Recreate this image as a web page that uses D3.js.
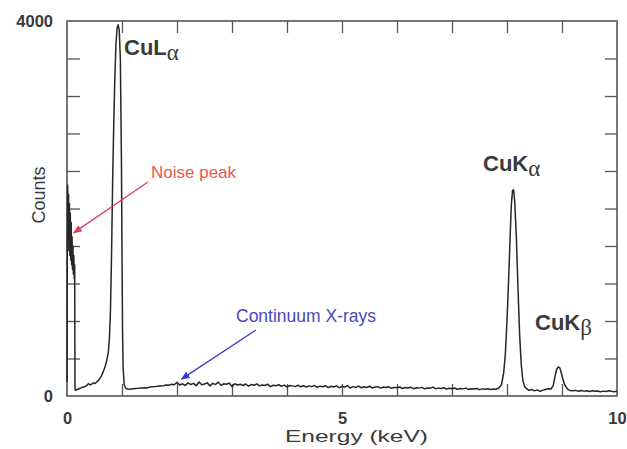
<!DOCTYPE html>
<html>
<head>
<meta charset="utf-8">
<script src="https://cdn.jsdelivr.net/npm/d3@7"></script>
<style>
  body { margin: 0; background: #fff; }
  svg { display: block; }
</style>
</head>
<body>
<svg id="chart" width="627" height="449"></svg>
<script>
// EDS spectrum of copper: [energy keV, counts]
const noisePeak = [
  [0.000, 150], [0.006, 1600], [0.012, 2250], [0.020, 1700], [0.028, 2150],
  [0.036, 1550], [0.044, 2050], [0.052, 1500], [0.060, 1950], [0.068, 1450],
  [0.076, 1850], [0.084, 1400], [0.092, 1700], [0.100, 1350], [0.108, 1600],
  [0.116, 1300], [0.124, 1500], [0.132, 1250], [0.140, 1400], [0.145, 90]
];
const lowContinuum = [
  [0.15, 62], [0.18, 66], [0.21, 75], [0.24, 82], [0.27, 90], [0.30, 96],
  [0.33, 102], [0.36, 112], [0.39, 132], [0.42, 118], [0.45, 126], [0.48, 140],
  [0.51, 134], [0.54, 150], [0.57, 165], [0.60, 190], [0.63, 220], [0.66, 260],
  [0.69, 310], [0.72, 370], [0.75, 460]
];
const cuLAlphaPeak = [
  [0.77, 600], [0.79, 900], [0.81, 1500], [0.83, 2300], [0.85, 2900],
  [0.87, 3400], [0.89, 3750], [0.91, 3920], [0.93, 3960], [0.95, 3900],
  [0.97, 3600], [0.99, 2500], [1.00, 1500], [1.01, 700], [1.02, 300],
  [1.04, 120], [1.07, 80]
];
const midContinuum = [
  [1.10, 75], [1.15, 72], [1.20, 78], [1.25, 80], [1.30, 82], [1.35, 85],
  [1.40, 88], [1.45, 86], [1.50, 95], [1.55, 98], [1.60, 100], [1.65, 105],
  [1.70, 110], [1.75, 108], [1.80, 118], [1.85, 115], [1.90, 125], [1.95, 120],
  [2.00, 145], [2.05, 118], [2.10, 130], [2.15, 112], [2.20, 140], [2.25, 122],
  [2.30, 135], [2.35, 110], [2.40, 150], [2.45, 120], [2.50, 128], [2.55, 140],
  [2.60, 108], [2.65, 135], [2.70, 122], [2.75, 148], [2.80, 115], [2.85, 130],
  [2.90, 125], [2.95, 138], [3.00, 100], [3.05, 130], [3.10, 118], [3.15, 125],
  [3.20, 112], [3.25, 128], [3.30, 105], [3.35, 122], [3.40, 115], [3.45, 130],
  [3.50, 108], [3.55, 118], [3.60, 112], [3.65, 125], [3.70, 100], [3.75, 115],
  [3.80, 110], [3.85, 120], [3.90, 104], [3.95, 116], [4.00, 95], [4.05, 112],
  [4.10, 108], [4.15, 100], [4.20, 115], [4.25, 98], [4.30, 110], [4.35, 94],
  [4.40, 108], [4.45, 100], [4.50, 112], [4.55, 92], [4.60, 105], [4.65, 98],
  [4.70, 110], [4.75, 90], [4.80, 104], [4.85, 96], [4.90, 108], [4.95, 88],
  [5.00, 102], [5.05, 95], [5.10, 112], [5.15, 85], [5.20, 100], [5.25, 92],
  [5.30, 106], [5.35, 88], [5.40, 98], [5.45, 90], [5.50, 104], [5.55, 86],
  [5.60, 96], [5.65, 100], [5.70, 84], [5.75, 95], [5.80, 90], [5.85, 98],
  [5.90, 82], [5.95, 92], [6.00, 88], [6.05, 96], [6.10, 80], [6.15, 90],
  [6.20, 86], [6.25, 94], [6.30, 78], [6.35, 88], [6.40, 84], [6.45, 92],
  [6.50, 76], [6.55, 86], [6.60, 82], [6.65, 95], [6.70, 78], [6.75, 84],
  [6.80, 80], [6.85, 88], [6.90, 74], [6.95, 82], [7.00, 78], [7.05, 85],
  [7.10, 72], [7.15, 80], [7.20, 76], [7.25, 84], [7.30, 70], [7.35, 78],
  [7.40, 74], [7.45, 80], [7.50, 68], [7.55, 76], [7.60, 72], [7.65, 78],
  [7.70, 70], [7.75, 74], [7.80, 72], [7.85, 85]
];
const cuKAlphaPeak = [
  [7.90, 120], [7.94, 250], [7.97, 450], [8.00, 800], [8.03, 1250],
  [8.06, 1750], [8.08, 2050], [8.10, 2190], [8.12, 2200], [8.14, 2080],
  [8.17, 1700], [8.20, 1150], [8.23, 650], [8.26, 330], [8.29, 160],
  [8.32, 100], [8.36, 75]
];
const gapContinuum = [
  [8.40, 60], [8.45, 70], [8.50, 55], [8.55, 65], [8.60, 50], [8.65, 60],
  [8.70, 70], [8.75, 78]
];
const cuKBetaPeak = [
  [8.80, 75], [8.84, 110], [8.87, 200], [8.90, 280], [8.93, 310], [8.96, 300],
  [8.99, 240], [9.02, 170], [9.05, 120], [9.08, 90], [9.12, 65]
];
const highContinuum = [
  [9.15, 58], [9.20, 55], [9.25, 60], [9.30, 50], [9.35, 58], [9.40, 52],
  [9.45, 56], [9.50, 48], [9.55, 55], [9.60, 50], [9.65, 54], [9.70, 46],
  [9.75, 52], [9.80, 48], [9.85, 55], [9.90, 50], [9.95, 46], [10.00, 50]
];

const spectrum = [].concat(noisePeak, lowContinuum, cuLAlphaPeak, midContinuum,
  cuKAlphaPeak, gapContinuum, cuKBetaPeak, highContinuum);

const xLabelTicks = [0, 5, 10];
const xMinorTicks = [1, 2, 3, 4, 5, 6, 7, 8, 9];
const yLabelTicks = [0, 4000];
const yMinorTicks = [400, 800, 1200, 1600, 2000, 2400, 2800, 3200, 3600];

const svg = d3.select("#chart");
const plotLeft = 67, plotRight = 617, plotTop = 21, plotBottom = 396;

const x = d3.scaleLinear().domain([0, 10]).range([plotLeft, plotRight]);
const y = d3.scaleLinear().domain([0, 4000]).range([plotBottom, plotTop]);

const frameColor = "#555";
const textColor = "#3a3a3a";

// inward ticks on all four sides
function styleTicks(g) {
  g.select(".domain").remove();
  g.selectAll("line").attr("stroke", frameColor).attr("stroke-width", 1.3);
}
svg.append("g").attr("transform", `translate(0,${plotBottom})`)
  .call(d3.axisBottom(x).tickValues(xMinorTicks).tickSize(-12).tickFormat(""))
  .call(styleTicks);
svg.append("g").attr("transform", `translate(0,${plotTop})`)
  .call(d3.axisTop(x).tickValues(xMinorTicks).tickSize(-12).tickFormat(""))
  .call(styleTicks);
svg.append("g").attr("transform", `translate(${plotLeft},0)`)
  .call(d3.axisLeft(y).tickValues(yMinorTicks).tickSize(-13).tickFormat(""))
  .call(styleTicks);
svg.append("g").attr("transform", `translate(${plotRight},0)`)
  .call(d3.axisRight(y).tickValues(yMinorTicks).tickSize(-12).tickFormat(""))
  .call(styleTicks);

// tick labels
function styleLabels(g) {
  g.select(".domain").remove();
  g.selectAll("line").remove();
  g.selectAll("text")
    .attr("font-family", "'Liberation Sans', Arial, sans-serif")
    .attr("font-size", 16.5).attr("font-weight", "bold").attr("fill", textColor);
}
svg.append("g").attr("transform", `translate(0,${plotBottom})`)
  .call(d3.axisBottom(x).tickValues(xLabelTicks).tickSize(0).tickPadding(16).tickFormat(d3.format("d")))
  .call(styleLabels);
svg.append("g").attr("transform", `translate(${plotLeft},0)`)
  .call(d3.axisLeft(y).tickValues(yLabelTicks).tickSize(0).tickPadding(14).tickFormat(d3.format("d")))
  .call(styleLabels);

// frame
svg.append("rect")
  .attr("x", plotLeft).attr("y", plotTop)
  .attr("width", plotRight - plotLeft).attr("height", plotBottom - plotTop)
  .attr("fill", "none").attr("stroke", frameColor).attr("stroke-width", 1.6);

// spectrum trace
const line = d3.line().x(d => x(d[0])).y(d => y(d[1]));
svg.append("path")
  .datum(spectrum)
  .attr("d", line)
  .attr("fill", "none")
  .attr("stroke", "#262626")
  .attr("stroke-width", 1.5)
  .attr("stroke-linejoin", "round");

// axis titles
svg.append("text")
  .attr("x", 285).attr("y", 442)
  .attr("textLength", 143).attr("lengthAdjust", "spacingAndGlyphs")
  .attr("font-family", "'Liberation Sans', Arial, sans-serif")
  .attr("font-size", 17).attr("fill", textColor)
  .text("Energy (keV)");
svg.append("text")
  .attr("transform", "translate(45,195) rotate(-90)")
  .attr("text-anchor", "middle")
  .attr("font-family", "'Liberation Sans', Arial, sans-serif")
  .attr("font-size", 18).attr("fill", textColor)
  .text("Counts");

// peak labels with Greek subscripts
function peakLabel(px, py, main, greek) {
  const t = svg.append("text")
    .attr("x", px).attr("y", py)
    .attr("font-family", "'Liberation Sans', Arial, sans-serif")
    .attr("font-size", 22).attr("font-weight", "bold").attr("fill", textColor);
  t.append("tspan").text(main);
  t.append("tspan")
    .attr("dy", 5)
    .attr("font-family", "'Liberation Serif', 'Times New Roman', serif")
    .attr("font-weight", "normal").attr("font-size", 23)
    .text(greek);
}
peakLabel(124, 55, "CuL", "α");
peakLabel(483, 171, "CuK", "α");
peakLabel(535, 330, "CuK", "β");

// annotations
const defs = svg.append("defs");
function arrowMarker(id, color) {
  defs.append("marker")
    .attr("id", id).attr("viewBox", "0 0 10 10")
    .attr("refX", 9).attr("refY", 5)
    .attr("markerWidth", 7).attr("markerHeight", 7)
    .attr("orient", "auto")
    .append("path").attr("d", "M0,1 L10,5 L0,9 z").attr("fill", color);
}
arrowMarker("arrowRed", "#d8405a");
arrowMarker("arrowBlue", "#3a3ad0");

svg.append("line")
  .attr("x1", 148).attr("y1", 182).attr("x2", x(0.12)).attr("y2", y(1740))
  .attr("stroke", "#d8405a").attr("stroke-width", 1.3)
  .attr("marker-end", "url(#arrowRed)");
svg.append("text")
  .attr("x", 151).attr("y", 178)
  .attr("font-family", "'Liberation Sans', Arial, sans-serif")
  .attr("font-size", 17).attr("fill", "#e8584e")
  .text("Noise peak");

svg.append("line")
  .attr("x1", 256).attr("y1", 330).attr("x2", x(2.08)).attr("y2", y(180))
  .attr("stroke", "#3a3ad0").attr("stroke-width", 1.3)
  .attr("marker-end", "url(#arrowBlue)");
svg.append("text")
  .attr("x", 236).attr("y", 322)
  .attr("font-family", "'Liberation Sans', Arial, sans-serif")
  .attr("font-size", 17.5).attr("fill", "#4848c0")
  .text("Continuum X-rays");
</script>
</body>
</html>
